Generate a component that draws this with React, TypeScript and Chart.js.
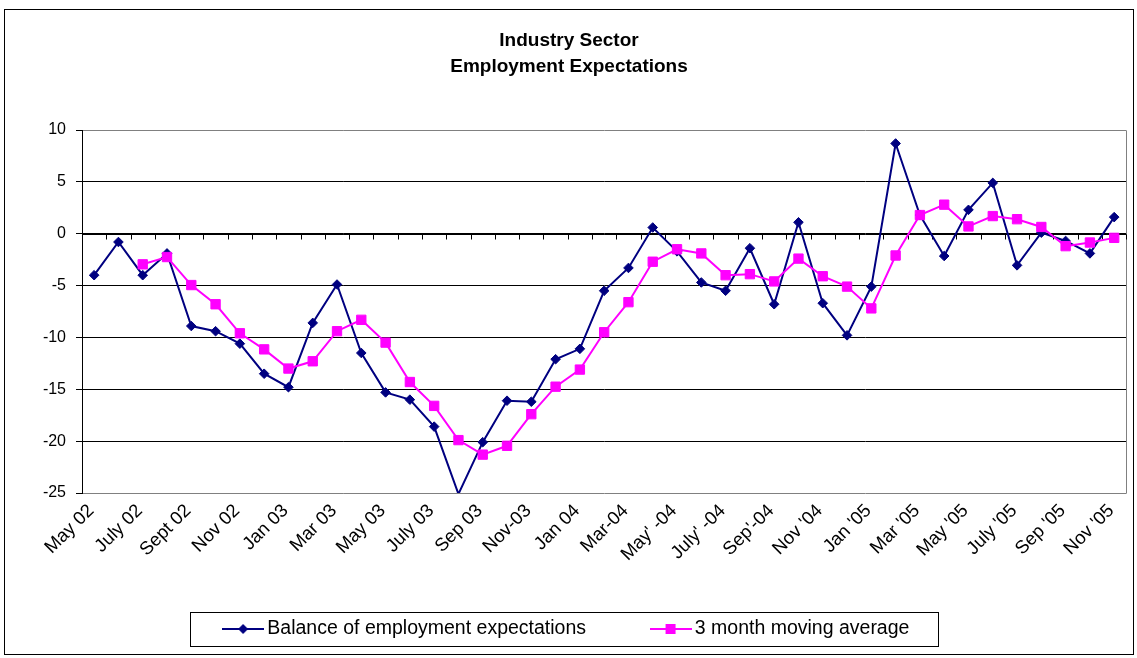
import React, { useEffect, useRef } from 'react';
import { Chart, registerables } from 'chart.js';

Chart.register(...registerables);

const categories = [
  'May 02', 'Jun 02', 'Jul 02', 'Aug 02', 'Sep 02', 'Oct 02', 'Nov 02', 'Dec 02',
  'Jan 03', 'Feb 03', 'Mar 03', 'Apr 03', 'May 03', 'Jun 03', 'Jul 03', 'Aug 03', 'Sep 03', 'Oct 03', 'Nov 03', 'Dec 03',
  'Jan 04', 'Feb 04', 'Mar 04', 'Apr 04', 'May 04', 'Jun 04', 'Jul 04', 'Aug 04', 'Sep 04', 'Oct 04', 'Nov 04', 'Dec 04',
  'Jan 05', 'Feb 05', 'Mar 05', 'Apr 05', 'May 05', 'Jun 05', 'Jul 05', 'Aug 05', 'Sep 05', 'Oct 05', 'Nov 05',
];

const tickLabels = [
  'May 02', 'July 02', 'Sept 02', 'Nov 02', 'Jan 03', 'Mar 03', 'May 03', 'July 03', 'Sep 03', 'Nov-03', 'Jan 04',
  'Mar-04', "May' -04", "July' -04", "Sep'-04", "Nov '04", "Jan '05", "Mar '05", "May '05", "July '05", "Sep '05", "Nov '05",
];

const balance = [
  -4.0, -0.8, -4.0, -1.9, -8.9, -9.4, -10.6, -13.5,
  -14.8, -8.6, -4.9, -11.5, -15.3, -16.0, -18.6, -25.1, -20.1, -16.1, -16.2, -12.1,
  -11.1, -5.5, -3.3, 0.6, -1.7, -4.7, -5.5, -1.4, -6.8, 1.1, -6.7, -9.8,
  -5.1, 8.7, 1.8, -2.15, 2.3, 4.9, -3.05, 0.1, -0.7, -1.9, 1.6,
];

const movingAverage = [
  null, null, -2.95, -2.25, -4.95, -6.8, -9.6, -11.15,
  -13.0, -12.3, -9.4, -8.3, -10.5, -14.3, -16.6, -19.9, -21.3, -20.45, -17.4, -14.75,
  -13.1, -9.5, -6.6, -2.7, -1.5, -1.9, -4.0, -3.9, -4.6, -2.4, -4.1, -5.1,
  -7.2, -2.1, 1.8, 2.8, 0.7, 1.7, 1.4, 0.65, -1.2, -0.85, -0.4,
];

const seriesNames = ['Balance of employment expectations', '3 month moving average'];
const titleLines = ['Industry Sector', 'Employment Expectations'];

const NAVY = '#000080';
const MAGENTA = '#FF00FF';
const FONT = "'Liberation Sans', Arial, Helvetica, sans-serif";

function makeIcon(color: string, shape: 'diamond' | 'square'): HTMLCanvasElement {
  const c = document.createElement('canvas');
  c.width = 42;
  c.height = 14;
  const g = c.getContext('2d')!;
  g.strokeStyle = color;
  g.fillStyle = color;
  g.lineWidth = 2;
  g.beginPath();
  g.moveTo(0, 7);
  g.lineTo(42, 7);
  g.stroke();
  g.beginPath();
  if (shape === 'diamond') {
    g.moveTo(21, 2);
    g.lineTo(26, 7);
    g.lineTo(21, 12);
    g.lineTo(16, 7);
    g.closePath();
  } else {
    g.rect(16, 2, 10, 10);
  }
  g.fill();
  return c;
}

const framePlugin = {
  id: 'frame',
  beforeDatasetsDraw(chart: any) {
    const { ctx, chartArea: a, scales } = chart;
    const x = scales.x;
    const y = scales.y;
    ctx.save();
    ctx.strokeStyle = '#808080';
    ctx.lineWidth = 1;
    const rx = Math.round(a.right) + 0.5;
    ctx.beginPath();
    ctx.moveTo(rx, Math.round(a.top) + 0.5);
    ctx.lineTo(rx, Math.round(a.bottom) + 0.5);
    ctx.stroke();
    const y0 = Math.round(y.getPixelForValue(0)) + 0.5;
    ctx.strokeStyle = '#000';
    ctx.beginPath();
    ctx.moveTo(a.left, y0);
    ctx.lineTo(a.right, y0);
    const n = categories.length;
    const step = x.getPixelForValue(1) - x.getPixelForValue(0);
    for (let i = 0; i <= n; i++) {
      const px = Math.round(x.getPixelForValue(0) - step / 2 + i * step) + 0.5;
      ctx.moveTo(px, y0);
      ctx.lineTo(px, y0 + 5);
    }
    ctx.stroke();
    ctx.restore();
  },
  afterDraw(chart: any) {
    const { ctx } = chart;
    ctx.save();
    ctx.strokeStyle = '#000';
    ctx.lineWidth = 1;
    ctx.strokeRect(4.5, 9.5, 1129, 645);
    const hb = chart.legend && chart.legend.legendHitBoxes;
    if (hb && hb.length) {
      const first = hb[0];
      const last = hb[hb.length - 1];
      const l = Math.round(first.left - 38.5) + 0.5;
      const r = Math.round(last.left + last.width + 29) + 0.5;
      const t = Math.round(first.top - 7.5) + 0.5;
      const b = Math.round(first.top + first.height + 7) + 0.5;
      ctx.strokeRect(l, t, r - l, b - t);
    }
    ctx.restore();
  },
};

export default function App() {
  const ref = useRef<HTMLCanvasElement | null>(null);

  useEffect(() => {
    if (!ref.current) return;
    Chart.defaults.font.family = FONT;
    Chart.defaults.color = '#000';
    const icons = [makeIcon(NAVY, 'diamond'), makeIcon(MAGENTA, 'square')];

    const chart = new Chart(ref.current, {
      type: 'line',
      data: {
        labels: categories,
        datasets: [
          {
            label: seriesNames[0],
            data: balance,
            borderColor: NAVY,
            backgroundColor: NAVY,
            borderWidth: 2,
            pointStyle: 'rectRot',
            pointRadius: (c: any) => (c.raw !== null && c.raw < -25 ? 0 : 4.8),
            pointBorderWidth: 1,
            pointBackgroundColor: NAVY,
            pointBorderColor: NAVY,
            tension: 0,
            order: 1,
          },
          {
            label: seriesNames[1],
            data: movingAverage,
            borderColor: MAGENTA,
            backgroundColor: MAGENTA,
            borderWidth: 2,
            pointStyle: 'rect',
            pointRadius: 6.6,
            pointBorderWidth: 1,
            pointBackgroundColor: MAGENTA,
            pointBorderColor: MAGENTA,
            tension: 0,
            order: 0,
          },
        ],
      },
      options: {
        animation: false,
        responsive: false,
        devicePixelRatio: 1,
        layout: { padding: { left: 10, right: 9, top: 10, bottom: 9.25 } },
        scales: {
          x: {
            type: 'category',
            offset: true,
            grid: { display: false, drawTicks: false },
            border: { display: false },
            ticks: {
              autoSkip: false,
              maxRotation: 45,
              minRotation: 45,
              padding: 7,
              labelOffset: -3,
              color: '#000',
              font: { size: 18.5, family: FONT },
              callback: (_v: any, idx: number) => (idx % 2 === 0 ? tickLabels[idx / 2] : ''),
            },
            afterFit: (s: any) => {
              s.height = 56.25;
              // let the rotated labels run past the axis box instead of being clipped
              s._computeLabelArea = () => undefined;
            },
          },
          y: {
            min: -25,
            max: 10,
            grid: {
              color: (c: any) => (c.tick && (c.tick.value === 10 || c.tick.value === -25) ? '#808080' : '#000'),
              tickColor: '#000',
              tickLength: 6,
              lineWidth: 1,
            },
            border: { display: true, color: '#000', width: 1 },
            ticks: {
              stepSize: 5,
              padding: 10,
              color: '#000',
              font: { size: 16, family: FONT },
            },
            afterFit: (s: any) => {
              s.width = 72;
            },
          },
        },
        plugins: {
          title: {
            display: true,
            text: titleLines,
            color: '#000',
            font: { size: 19, weight: 'bold', family: FONT, lineHeight: 1.4 },
            padding: { top: 17, bottom: 49.8 },
          },
          legend: {
            display: true,
            position: 'bottom',
            labels: {
              usePointStyle: true,
              pointStyleWidth: 29,
              padding: 70,
              color: '#000',
              font: { size: 19.5, family: FONT },
              generateLabels: (ch: any) =>
                ch.data.datasets.map((ds: any, i: number) => ({
                  text: ds.label,
                  fillStyle: ds.borderColor,
                  strokeStyle: ds.borderColor,
                  lineWidth: 0,
                  pointStyle: icons[i],
                  hidden: false,
                  datasetIndex: i,
                  fontColor: '#000',
                })),
            },
          },
          tooltip: { enabled: false },
        },
      } as any,
      plugins: [framePlugin],
    });
    return () => chart.destroy();
  }, []);

  return (
    <div style={{ position: 'absolute', left: 0, top: 0, width: 1137, height: 658, background: '#fff' }}>
      <canvas ref={ref} width={1137} height={658} style={{ width: 1137, height: 658, display: 'block' }} />
    </div>
  );
}
